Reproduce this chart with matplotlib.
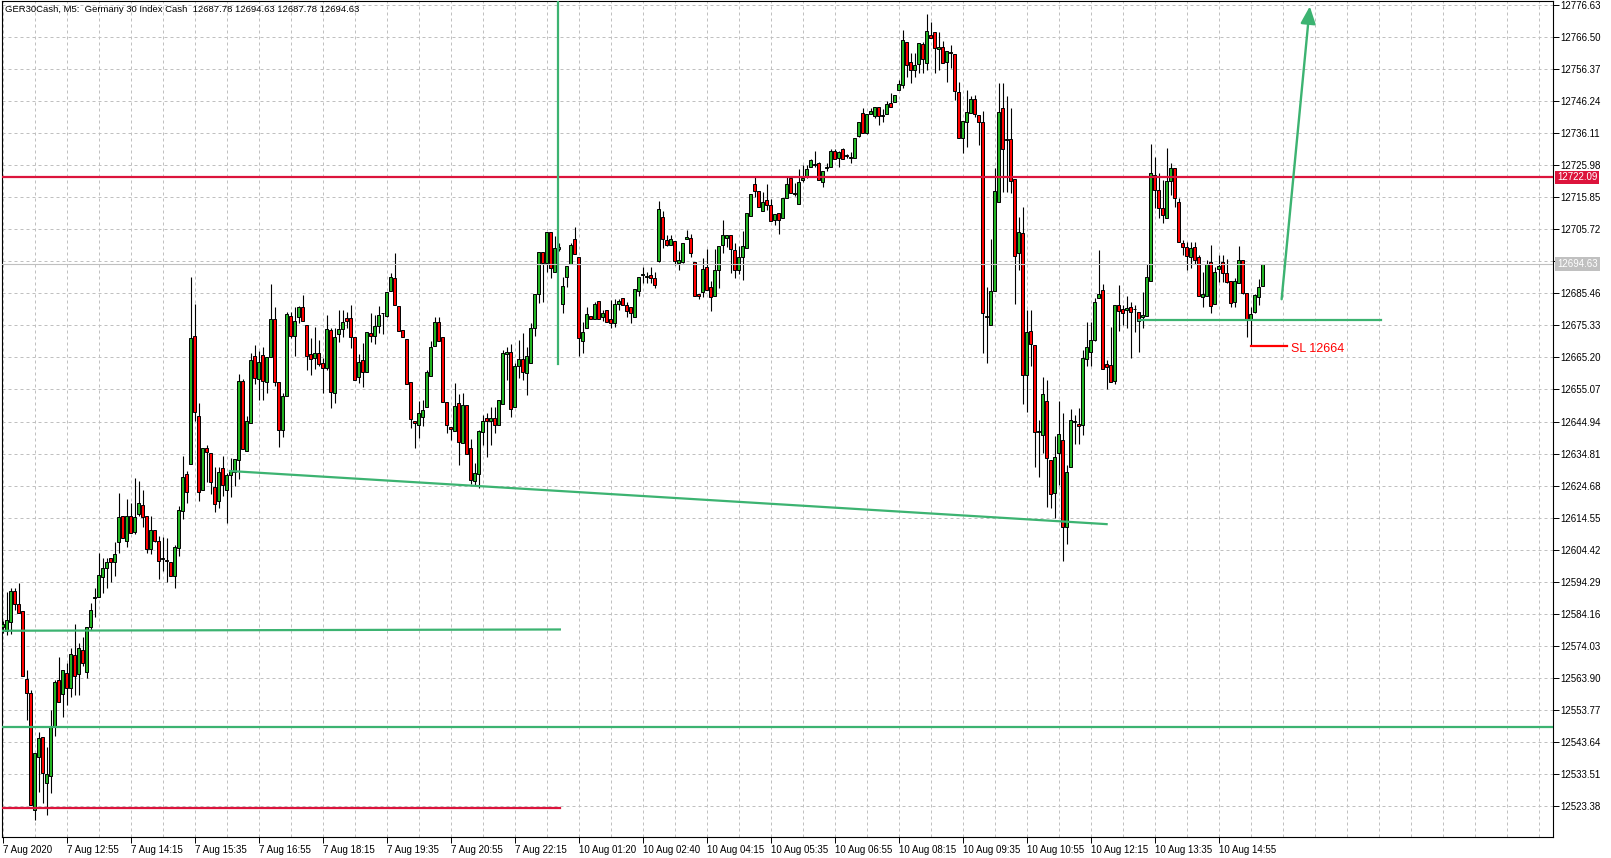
import matplotlib
matplotlib.use("Agg")
import matplotlib.pyplot as plt
import matplotlib.transforms as mtransforms
import numpy as np

plt.rcParams['font.family'] = ['Liberation Sans', 'DejaVu Sans']

# GER30Cash M5 candles (bar 0 = 7 Aug 11:35)
opens = [
    12580.0, 12578.8, 12581.7, 12591.4, 12587.2, 12585.0, 12563.5, 12559.0, 12522.1, 12539.0,
    12545.1, 12530.8, 12533.0, 12548.8, 12563.2, 12558.7, 12565.3, 12560.6, 12571.0, 12565.0,
    12572.7, 12565.6, 12579.9, 12589.2, 12589.6, 12595.9, 12598.5, 12601.7, 12600.6, 12606.7,
    12615.2, 12607.3, 12615.0, 12610.0, 12615.8, 12618.5, 12615.2, 12604.7, 12610.8, 12607.3,
    12601.5, 12601.0, 12600.6, 12596.0, 12605.0, 12616.6, 12628.5, 12631.4, 12672.0, 12646.8,
    12623.2, 12636.5, 12634.9, 12624.1, 12619.7, 12630.2, 12623.4, 12628.1, 12629.1, 12632.8,
    12657.9, 12635.5, 12644.5, 12665.8, 12658.5, 12666.0, 12657.4, 12665.3, 12677.5, 12657.4,
    12642.4, 12653.0, 12678.4, 12672.0, 12677.9, 12681.0, 12675.5, 12666.2, 12665.0, 12666.7,
    12663.6, 12661.8, 12673.9, 12653.9, 12672.5, 12674.2, 12677.7, 12677.6, 12671.6, 12659.1,
    12664.4, 12660.5, 12672.8, 12672.1, 12675.1, 12679.1, 12678.3, 12686.3, 12690.2, 12681.5,
    12673.9, 12670.9, 12657.3, 12645.2, 12643.8, 12646.5, 12649.6, 12659.4, 12668.9, 12676.3,
    12671.6, 12651.2, 12643.1, 12641.8, 12650.7, 12638.1, 12650.2, 12636.5, 12626.2, 12628.3,
    12641.7, 12645.9, 12645.2, 12645.9, 12643.8, 12650.5, 12666.3, 12666.8, 12649.4, 12662.6,
    12664.7, 12660.4, 12663.6, 12674.6, 12685.2, 12698.6, 12695.0, 12704.8, 12692.3, 12699.6,
    12682.0, 12690.5, 12694.9, 12702.5, 12696.9, 12670.4, 12674.4, 12678.3, 12677.4, 12683.1,
    12678.1, 12680.2, 12677.4, 12676.0, 12682.0, 12683.9, 12681.8, 12681.0, 12678.1, 12686.3,
    12691.2, 12690.6, 12691.2, 12690.2, 12695.8, 12709.7, 12702.3, 12700.9, 12701.9, 12695.1,
    12695.3, 12702.5, 12702.9, 12695.5, 12685.3, 12685.9, 12693.8, 12687.6, 12684.7, 12693.0,
    12700.9, 12702.9, 12703.8, 12699.2, 12693.0, 12696.8, 12699.8, 12709.9, 12719.9, 12717.9,
    12711.6, 12715.0, 12713.4, 12708.7, 12710.8, 12709.3, 12715.7, 12721.8, 12717.1, 12713.6,
    12721.2, 12722.3, 12725.5, 12726.1, 12726.7, 12720.6, 12725.0, 12725.5, 12730.4, 12728.3,
    12731.2, 12728.9, 12728.4, 12728.4, 12735.1, 12742.5, 12736.3, 12742.2, 12741.4, 12744.5,
    12741.6, 12742.2, 12745.6, 12745.9, 12749.9, 12751.2, 12764.8, 12758.7, 12756.1, 12758.0,
    12764.4, 12758.4, 12767.1, 12768.0, 12762.6, 12763.3, 12758.7, 12761.4, 12761.2, 12749.0,
    12734.6, 12739.7, 12742.5, 12747.0, 12741.7, 12739.5, 12678.0, 12675.6, 12686.1, 12714.2,
    12744.0, 12734.0, 12734.2, 12721.5, 12698.1, 12704.4, 12659.6, 12673.6, 12669.1, 12641.7,
    12640.7, 12651.5, 12632.8, 12622.4, 12635.0, 12639.1, 12611.5, 12630.7, 12644.9, 12644.2,
    12644.0, 12664.6, 12667.0, 12670.7, 12683.9, 12686.5, 12663.0, 12662.8, 12657.8, 12681.8,
    12680.5, 12680.2, 12681.0, 12680.4, 12679.7, 12678.1, 12678.3, 12689.5, 12722.9, 12718.0,
    12712.3, 12709.2, 12721.0, 12725.0, 12714.4, 12701.3, 12700.2, 12697.1, 12700.0, 12697.1,
    12684.4, 12684.6, 12695.3, 12682.0, 12693.2, 12695.3, 12691.8, 12689.4, 12682.6, 12688.6,
    12696.0, 12685.5, 12677.4, 12679.7, 12684.2, 12687.78,
]
highs = [
    12582.0, 12590.9, 12592.2, 12592.2, 12594.0, 12585.0, 12566.4, 12560.1, 12540.3, 12546.9,
    12545.1, 12541.9, 12553.7, 12563.2, 12570.4, 12566.4, 12568.5, 12573.2, 12580.9, 12575.0,
    12576.9, 12579.9, 12587.7, 12592.2, 12603.5, 12601.8, 12601.8, 12601.7, 12607.0, 12622.3,
    12615.2, 12620.5, 12619.3, 12627.2, 12626.0, 12623.4, 12615.2, 12615.2, 12610.8, 12608.8,
    12608.4, 12608.0, 12600.6, 12605.9, 12618.2, 12634.2, 12629.3, 12690.7, 12682.0, 12650.9,
    12636.5, 12637.5, 12634.9, 12630.5, 12630.5, 12634.0, 12628.7, 12633.4, 12633.1, 12660.0,
    12658.5, 12646.8, 12666.7, 12669.1, 12667.3, 12668.5, 12665.2, 12688.4, 12681.0, 12657.4,
    12653.9, 12679.6, 12679.6, 12681.0, 12681.4, 12684.9, 12675.5, 12671.4, 12674.9, 12670.8,
    12665.0, 12678.6, 12674.4, 12674.4, 12680.2, 12680.2, 12679.7, 12681.7, 12671.6, 12666.3,
    12669.7, 12673.1, 12679.2, 12678.6, 12681.5, 12679.2, 12685.8, 12692.0, 12698.3, 12681.5,
    12673.9, 12670.9, 12657.3, 12645.2, 12651.5, 12651.8, 12661.2, 12670.5, 12677.9, 12677.9,
    12671.6, 12651.2, 12643.1, 12657.0, 12653.6, 12653.9, 12650.2, 12639.3, 12631.8, 12642.3,
    12647.0, 12647.5, 12649.6, 12649.6, 12651.7, 12667.6, 12668.6, 12669.5, 12663.6, 12670.7,
    12673.0, 12668.6, 12676.0, 12685.3, 12698.6, 12698.6, 12704.8, 12704.8, 12703.6, 12701.3,
    12690.7, 12694.2, 12701.3, 12706.5, 12696.9, 12676.5, 12681.3, 12678.3, 12682.8, 12683.1,
    12680.2, 12680.2, 12683.4, 12683.7, 12683.7, 12683.9, 12682.8, 12681.0, 12686.7, 12690.5,
    12693.8, 12692.1, 12693.8, 12692.1, 12714.8, 12711.6, 12704.0, 12704.0, 12701.9, 12698.9,
    12701.4, 12705.5, 12704.3, 12695.5, 12685.3, 12696.6, 12699.5, 12689.3, 12699.5, 12700.3,
    12708.8, 12704.0, 12703.8, 12701.4, 12700.3, 12705.3, 12710.8, 12717.0, 12722.7, 12717.9,
    12717.6, 12719.9, 12715.3, 12710.5, 12710.8, 12715.7, 12722.1, 12721.8, 12720.2, 12724.9,
    12725.9, 12725.9, 12727.8, 12730.4, 12727.0, 12724.0, 12726.7, 12731.2, 12731.2, 12730.6,
    12731.5, 12729.5, 12730.0, 12734.6, 12739.7, 12744.2, 12742.2, 12744.2, 12744.5, 12744.5,
    12743.6, 12746.3, 12748.7, 12748.2, 12753.0, 12768.6, 12764.8, 12761.4, 12761.4, 12764.6,
    12764.8, 12773.7, 12771.2, 12768.0, 12768.0, 12765.2, 12762.0, 12764.0, 12761.2, 12752.4,
    12739.9, 12749.9, 12747.8, 12748.2, 12741.7, 12743.1, 12687.6, 12702.5, 12725.2, 12751.9,
    12752.1, 12748.0, 12744.0, 12721.5, 12709.7, 12712.7, 12680.2, 12680.2, 12669.1, 12645.4,
    12658.9, 12658.1, 12632.8, 12640.4, 12651.5, 12647.5, 12631.2, 12648.8, 12646.9, 12649.1,
    12667.6, 12676.5, 12676.5, 12683.9, 12699.2, 12688.4, 12664.4, 12674.9, 12681.8, 12688.1,
    12681.8, 12684.6, 12682.8, 12681.8, 12679.7, 12686.0, 12694.7, 12732.7, 12728.5, 12723.6,
    12721.3, 12731.3, 12726.6, 12725.0, 12715.5, 12702.3, 12701.6, 12701.6, 12701.6, 12697.6,
    12692.3, 12696.0, 12700.8, 12693.9, 12697.6, 12697.6, 12696.2, 12689.4, 12690.2, 12700.4,
    12696.0, 12685.5, 12681.3, 12685.3, 12689.9, 12694.63,
]
lows = [
    12578.0, 12577.5, 12577.8, 12585.4, 12584.3, 12564.6, 12550.6, 12523.7, 12518.9, 12527.9,
    12524.2, 12520.5, 12527.4, 12545.6, 12556.4, 12551.6, 12555.3, 12557.9, 12558.5, 12558.5,
    12567.6, 12563.7, 12579.0, 12583.2, 12589.5, 12590.8, 12592.4, 12594.2, 12596.0, 12603.5,
    12608.0, 12605.3, 12609.6, 12609.4, 12615.2, 12611.7, 12603.5, 12603.0, 12607.0, 12595.3,
    12597.7, 12594.2, 12596.0, 12592.4, 12602.4, 12614.1, 12619.1, 12631.4, 12645.1, 12619.9,
    12623.2, 12625.8, 12622.0, 12616.4, 12617.6, 12621.3, 12612.9, 12621.1, 12624.6, 12626.9,
    12636.1, 12635.5, 12644.5, 12656.8, 12651.8, 12651.8, 12653.9, 12665.3, 12656.2, 12636.9,
    12640.0, 12653.0, 12671.2, 12665.8, 12676.1, 12676.7, 12661.1, 12659.7, 12661.5, 12662.6,
    12654.1, 12661.2, 12649.1, 12650.7, 12670.2, 12671.8, 12674.4, 12668.1, 12658.1, 12657.2,
    12656.0, 12660.5, 12670.2, 12669.5, 12672.8, 12672.6, 12678.1, 12686.3, 12681.7, 12673.7,
    12671.8, 12656.8, 12642.8, 12636.5, 12639.6, 12643.5, 12649.6, 12659.4, 12668.9, 12670.5,
    12651.2, 12641.2, 12639.1, 12641.8, 12631.2, 12638.1, 12634.7, 12625.2, 12624.9, 12623.8,
    12637.5, 12633.8, 12637.5, 12641.2, 12643.8, 12650.5, 12658.1, 12646.5, 12649.4, 12658.6,
    12658.1, 12653.3, 12663.6, 12672.0, 12682.5, 12682.8, 12692.3, 12690.2, 12692.3, 12698.9,
    12679.1, 12687.4, 12694.9, 12697.8, 12665.8, 12666.5, 12674.4, 12677.4, 12677.4, 12677.4,
    12676.8, 12676.3, 12674.4, 12674.9, 12680.2, 12681.8, 12678.1, 12676.2, 12678.1, 12684.6,
    12688.7, 12688.7, 12688.7, 12687.0, 12695.3, 12699.8, 12700.3, 12700.6, 12694.4, 12693.0,
    12695.0, 12702.5, 12696.9, 12684.7, 12683.6, 12684.2, 12686.4, 12679.9, 12684.7, 12687.3,
    12698.3, 12700.0, 12691.9, 12690.4, 12691.5, 12689.8, 12699.8, 12709.9, 12715.9, 12712.7,
    12711.6, 12711.9, 12708.2, 12707.0, 12704.3, 12709.3, 12715.7, 12717.2, 12716.1, 12713.6,
    12720.6, 12721.8, 12725.5, 12725.5, 12721.3, 12719.1, 12724.1, 12725.5, 12727.8, 12725.5,
    12727.8, 12728.3, 12726.6, 12728.4, 12734.9, 12736.3, 12735.7, 12742.2, 12740.8, 12738.8,
    12739.7, 12742.2, 12744.4, 12745.9, 12749.9, 12750.4, 12753.8, 12752.1, 12753.8, 12755.0,
    12755.0, 12756.1, 12766.3, 12755.0, 12756.1, 12758.4, 12752.4, 12756.7, 12746.7, 12734.6,
    12729.7, 12731.7, 12742.5, 12741.1, 12732.3, 12666.6, 12663.5, 12675.6, 12686.1, 12714.2,
    12717.6, 12717.6, 12717.1, 12682.1, 12692.8, 12650.5, 12648.0, 12662.5, 12630.5, 12627.5,
    12635.0, 12618.0, 12617.5, 12614.3, 12624.9, 12601.0, 12606.2, 12630.7, 12637.8, 12637.8,
    12640.7, 12662.5, 12662.5, 12670.5, 12683.9, 12661.7, 12655.1, 12657.5, 12656.8, 12673.7,
    12675.5, 12674.4, 12664.9, 12673.3, 12667.0, 12674.4, 12678.3, 12689.5, 12712.3, 12709.2,
    12707.6, 12709.2, 12716.6, 12712.7, 12701.6, 12697.6, 12692.8, 12693.4, 12694.7, 12684.6,
    12681.2, 12684.6, 12679.2, 12682.0, 12689.2, 12689.2, 12688.6, 12681.0, 12681.3, 12688.6,
    12685.3, 12671.6, 12669.1, 12679.1, 12681.8, 12687.78,
]
closes = [
    12581.0, 12582.2, 12591.4, 12587.2, 12584.3, 12564.6, 12559.0, 12523.7, 12540.3, 12544.8,
    12533.7, 12533.5, 12548.8, 12562.6, 12556.4, 12566.4, 12560.6, 12571.3, 12564.6, 12573.5,
    12568.7, 12579.9, 12585.4, 12589.3, 12596.4, 12598.5, 12600.6, 12600.6, 12603.2, 12614.7,
    12608.0, 12615.2, 12609.6, 12614.7, 12619.3, 12614.7, 12604.5, 12610.8, 12607.3, 12601.0,
    12601.6, 12600.9, 12596.0, 12605.3, 12617.0, 12627.5, 12622.8, 12671.4, 12647.8, 12622.8,
    12636.5, 12635.4, 12625.8, 12619.0, 12629.1, 12624.8, 12627.9, 12629.3, 12633.1, 12657.6,
    12636.1, 12645.1, 12664.4, 12658.8, 12663.8, 12657.8, 12665.2, 12677.5, 12657.4, 12642.2,
    12653.0, 12678.8, 12672.0, 12676.7, 12681.0, 12676.7, 12665.8, 12664.6, 12666.7, 12663.2,
    12662.0, 12674.1, 12654.4, 12671.6, 12674.1, 12676.5, 12676.8, 12671.6, 12658.1, 12663.9,
    12660.7, 12673.1, 12672.1, 12675.1, 12678.5, 12679.2, 12685.8, 12690.5, 12681.7, 12673.7,
    12671.8, 12656.8, 12645.7, 12644.4, 12647.5, 12648.6, 12660.7, 12668.6, 12676.3, 12670.5,
    12651.2, 12643.8, 12642.6, 12649.9, 12638.6, 12650.2, 12634.7, 12626.5, 12628.6, 12642.0,
    12645.1, 12645.2, 12645.9, 12643.8, 12651.7, 12666.5, 12666.8, 12648.8, 12662.6, 12664.7,
    12660.7, 12665.7, 12674.6, 12685.3, 12698.6, 12695.2, 12704.8, 12693.4, 12699.9, 12700.2,
    12687.8, 12694.2, 12700.8, 12697.8, 12671.2, 12673.4, 12678.8, 12677.4, 12682.0, 12677.4,
    12679.2, 12676.3, 12676.0, 12682.0, 12683.1, 12681.8, 12680.0, 12679.2, 12686.7, 12690.5,
    12691.3, 12690.7, 12690.4, 12688.1, 12712.2, 12702.5, 12700.6, 12702.5, 12695.8, 12695.9,
    12701.4, 12703.4, 12698.3, 12684.7, 12684.7, 12693.2, 12686.4, 12684.4, 12693.0, 12700.3,
    12703.8, 12704.0, 12699.5, 12693.0, 12696.8, 12700.3, 12710.8, 12717.0, 12717.9, 12712.7,
    12714.4, 12713.3, 12708.2, 12710.5, 12708.5, 12715.7, 12719.9, 12717.2, 12717.0, 12720.6,
    12721.8, 12724.7, 12727.5, 12726.2, 12721.3, 12724.0, 12725.5, 12730.4, 12727.8, 12730.3,
    12728.0, 12728.8, 12728.5, 12734.6, 12739.7, 12736.3, 12742.2, 12743.1, 12744.5, 12741.4,
    12741.7, 12745.3, 12744.4, 12748.2, 12751.6, 12765.7, 12757.6, 12756.1, 12757.6, 12764.6,
    12759.5, 12768.4, 12766.3, 12762.9, 12763.2, 12758.4, 12762.0, 12761.5, 12749.3, 12734.6,
    12739.9, 12742.9, 12747.0, 12742.2, 12739.5, 12679.4, 12678.1, 12686.1, 12717.9, 12742.8,
    12731.0, 12734.4, 12721.1, 12697.3, 12704.8, 12659.6, 12673.3, 12669.4, 12641.7, 12641.8,
    12653.8, 12633.3, 12622.0, 12633.8, 12640.9, 12611.5, 12629.1, 12645.4, 12645.0, 12643.6,
    12665.0, 12668.4, 12670.7, 12682.6, 12685.3, 12661.7, 12662.3, 12657.5, 12681.8, 12680.0,
    12679.4, 12680.7, 12679.7, 12680.5, 12676.8, 12678.6, 12690.5, 12723.6, 12718.1, 12712.3,
    12710.2, 12721.1, 12725.2, 12715.5, 12701.6, 12700.2, 12697.4, 12699.7, 12696.0, 12684.6,
    12685.3, 12694.9, 12681.6, 12692.1, 12694.1, 12691.8, 12688.9, 12682.3, 12689.4, 12696.0,
    12685.7, 12677.4, 12679.0, 12684.9, 12687.6, 12694.63,
]

time_labels = ["7 Aug 2020", "7 Aug 12:55", "7 Aug 14:15", "7 Aug 15:35", "7 Aug 16:55",
               "7 Aug 18:15", "7 Aug 19:35", "7 Aug 20:55", "7 Aug 22:15", "10 Aug 01:20",
               "10 Aug 02:40", "10 Aug 04:15", "10 Aug 05:35", "10 Aug 06:55", "10 Aug 08:15",
               "10 Aug 09:35", "10 Aug 10:55", "10 Aug 12:15", "10 Aug 13:35", "10 Aug 14:55"]
price_base = 12523.38
price_step = 10.13
resistance = 12722.09
last_price = 12694.63
low_level = 12548.46
stop_loss = 12668.8

GREEN = '#3CB371'
RED = '#DC143C'

W, H = 1611, 858
fig = plt.figure(figsize=(W / 100, H / 100), dpi=100)
ax = fig.add_axes([2 / W, 21 / H, 1551 / W, 836 / H])
ax.set_xlim(-0.18, 387.6)
ax.set_ylim(12513.59, 12777.89)

o = np.array(opens)
h = np.array(highs)
l = np.array(lows)
c = np.array(closes)
x = np.arange(len(o))

# grid
levels = price_base + price_step * np.arange(26)
for lv in levels:
    ax.axhline(lv, color='#C0C0C0', lw=0.72, ls=(0, (3, 3)), zorder=0)
for gx in range(0, 388, 8):
    ax.axvline(gx, color='#C0C0C0', lw=0.72, ls=(0, (3, 3)), zorder=0)

# candles
ax.vlines(x, l, h, color='black', lw=0.8, zorder=2)
bull = c >= o
body_bot = np.minimum(o, c)
body_h = np.maximum(np.abs(c - o), 0.25)
ax.bar(x, body_h, bottom=body_bot, width=0.78,
       color=np.where(bull, '#22B422', '#FF0000'),
       edgecolor='black', linewidth=0.7, zorder=3)

# drawn objects
ax.axhline(last_price, color='#C0C0C0', lw=0.8, zorder=4)
ax.axhline(resistance, color=RED, lw=1.6, zorder=5)
ax.axhline(low_level, color=GREEN, lw=1.6, zorder=5)
ax.plot([-0.2, 139.3], [12522.85, 12522.85], color=RED, lw=1.6, zorder=5)
ax.plot([-0.2, 139.3], [12578.8, 12579.2], color=GREEN, lw=1.6, zorder=5)
ax.plot([56.8, 276.0], [12629.3, 12612.5], color=GREEN, lw=1.6, zorder=5)
ax.plot([138.8, 138.8], [12663.1, 12778.0], color=GREEN, lw=1.6, zorder=5)
ax.plot([284.0, 344.6], [12677.0, 12677.0], color=GREEN, lw=1.6, zorder=5)
ax.plot([312.0, 321.0], [stop_loss, stop_loss], color='#FF0000', lw=1.6, zorder=5)
ax.text(322.0, stop_loss - 0.8, "SL 12664", color='#FF0000', fontsize=9,
        va='center', ha='left', zorder=6)
ax.annotate('', xy=(326.8, 12776.2), xytext=(319.75, 12683.6),
            arrowprops=dict(arrowstyle='-|>,head_length=0.8,head_width=0.35',
                            color=GREEN, lw=1.7, mutation_scale=13,
                            shrinkA=0, shrinkB=0), zorder=6)

# axes styling
for sp in ax.spines.values():
    sp.set_color('black')
    sp.set_linewidth(0.8)
ax.yaxis.tick_right()
ax.set_yticks(levels)
ylabels = [f"{lv:.2f}" if k != 17 else "" for k, lv in enumerate(levels)]
ax.set_yticklabels(ylabels, fontsize=7)
ax.tick_params(axis='y', direction='out', length=4, width=0.7, pad=1.5)

ax.set_xticks(np.arange(len(time_labels)) * 16)
ax.set_xticklabels(time_labels, fontsize=7, ha='left')
ax.tick_params(axis='x', direction='out', length=4, width=0.7, pad=1.5)

trans = mtransforms.blended_transform_factory(ax.transAxes, ax.transData)
ax.text(1.0 + 4 / 1551, resistance, "12722.09", transform=trans, fontsize=7,
        color='white', va='center', ha='left',
        bbox=dict(boxstyle='square,pad=0.2', fc=RED, ec='none'))
ax.text(1.0 + 4 / 1551, last_price, "12694.63", transform=trans, fontsize=7,
        color='white', va='center', ha='left',
        bbox=dict(boxstyle='square,pad=0.2', fc='#C0C0C0', ec='none'))

fig.text(5 / W, 1 - 9.5 / H,
         "GER30Cash, M5:  Germany 30 Index Cash  12687.78 12694.63 12687.78 12694.63",
         fontsize=6.8, va='center', ha='left')

fig.savefig("out.png", dpi=100, facecolor='white')
